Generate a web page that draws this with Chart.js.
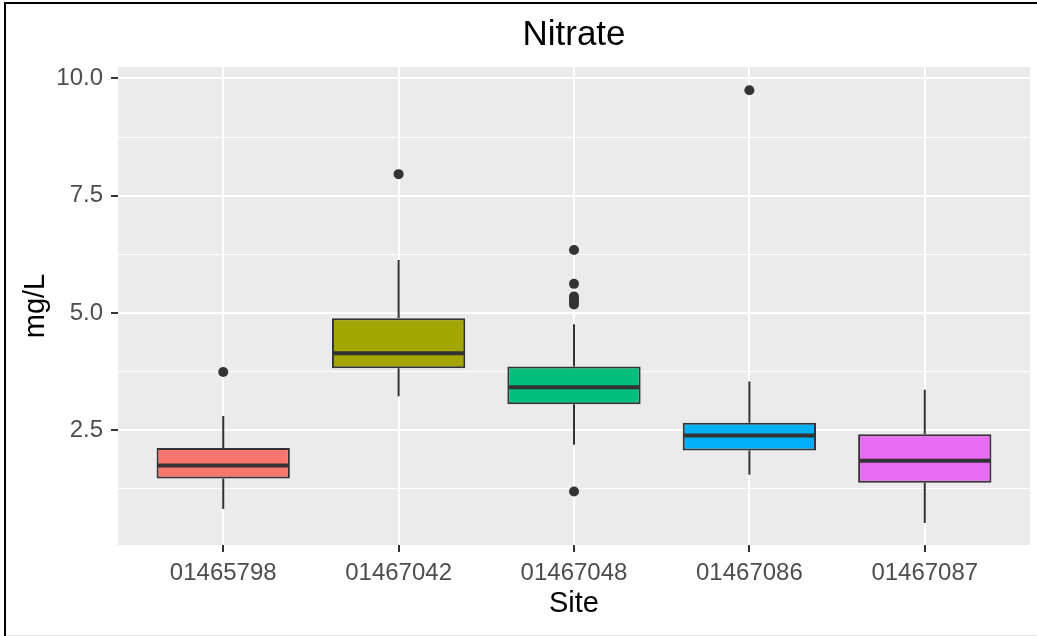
<!DOCTYPE html>
<html>
<head>
<meta charset="utf-8">
<script src="https://cdn.jsdelivr.net/npm/chart.js@4"></script>
<style>
  html, body { margin: 0; padding: 0; background: #ffffff; }
  #wrap { position: relative; width: 1037px; height: 636px; }
</style>
</head>
<body>
<div id="wrap"><canvas id="c"></canvas></div>
<script>
// ---- data ----
const sites       = ['01465798', '01467042', '01467048', '01467086', '01467087'];
const boxColors   = ['#F8766D', '#A3A500', '#00BF7D', '#00B0F6', '#E76BF3'];
const whiskerLow  = [0.82, 3.22, 2.19, 1.55, 0.52];
const q1          = [1.47, 3.82, 3.05, 2.065, 1.38];
const medians     = [1.745, 4.14, 3.416, 2.385, 1.845];
const q3          = [2.12, 4.886, 3.855, 2.66, 2.41];
const whiskerHigh = [2.80, 6.13, 4.76, 3.535, 3.36];
const outliers    = [[3.74], [7.96], [6.34, 5.62, 5.35, 5.30, 5.24, 5.18, 1.19], [9.75], []];
const yMajorTicks = [2.5, 5.0, 7.5, 10.0];
const yMinorTicks = [1.25, 3.75, 6.25, 8.75];

const FONT = "'Liberation Sans', Arial, sans-serif";
const isMajor = v => yMajorTicks.some(t => Math.abs(t - v) < 1e-6);

const boxData = sites.map((s, i) => ({ x: i + 1, y: [q1[i], q3[i]] }));
const outlierData = [];
outliers.forEach((arr, i) => arr.forEach(v => outlierData.push({ x: i + 1, y: v })));

const ggBoxPlugin = {
  id: 'ggBox',
  beforeDraw(chart) {
    const { ctx, chartArea: a } = chart;
    ctx.save();
    ctx.fillStyle = '#ffffff';
    ctx.fillRect(0, 0, chart.width, chart.height);
    ctx.fillStyle = '#EBEBEB';
    ctx.fillRect(a.left, a.top, a.right - a.left, a.bottom - a.top);
    ctx.restore();
  },
  beforeDatasetsDraw(chart) {
    const { ctx } = chart;
    const xs = chart.scales.x, ys = chart.scales.y;
    ctx.save();
    ctx.strokeStyle = '#333333';
    ctx.lineWidth = 2;
    sites.forEach((s, i) => {
      const x = xs.getPixelForValue(i + 1);
      ctx.beginPath();
      ctx.moveTo(x, ys.getPixelForValue(whiskerHigh[i]));
      ctx.lineTo(x, ys.getPixelForValue(q3[i]));
      ctx.moveTo(x, ys.getPixelForValue(q1[i]));
      ctx.lineTo(x, ys.getPixelForValue(whiskerLow[i]));
      ctx.stroke();
    });
    ctx.restore();
  },
  afterDatasetsDraw(chart) {
    const { ctx } = chart;
    const ys = chart.scales.y;
    const meta = chart.getDatasetMeta(1);
    ctx.save();
    ctx.strokeStyle = '#333333';
    ctx.lineWidth = 4;
    meta.data.forEach((bar, i) => {
      const y = ys.getPixelForValue(medians[i]);
      ctx.beginPath();
      ctx.moveTo(bar.x - bar.width / 2 + 1, y);
      ctx.lineTo(bar.x + bar.width / 2 - 1, y);
      ctx.stroke();
    });
    ctx.restore();
  },
  afterDraw(chart) {
    const { ctx } = chart;
    ctx.save();
    ctx.fillStyle = '#000000';
    ctx.fillRect(4, 2, chart.width - 4, 2);
    ctx.fillRect(4, 2, 2, chart.height - 2);
    ctx.fillStyle = '#E3E3E3';
    ctx.fillRect(6, chart.height - 1, chart.width - 6, 1);
    ctx.restore();
  }
};

new Chart(document.getElementById('c'), {
  data: {
    datasets: [
      {
        type: 'line',
        label: 'outliers',
        data: outlierData,
        showLine: false,
        pointRadius: 5,
        pointBackgroundColor: '#333333',
        pointBorderWidth: 0,
        pointBorderColor: '#333333'
      },
      {
        type: 'bar',
        label: 'Nitrate',
        data: boxData,
        backgroundColor: boxColors,
        borderColor: '#333333',
        borderWidth: 2,
        borderSkipped: false,
        barPercentage: 0.76,
        categoryPercentage: 1.0
      }
    ]
  },
  options: {
    responsive: true,
    maintainAspectRatio: false,
    animation: false,
    events: [],
    layout: { padding: { left: 0, right: 7, top: 0, bottom: 0 } },
    plugins: {
      legend: { display: false },
      tooltip: { enabled: false },
      title: {
        display: true,
        text: 'Nitrate',
        fullSize: false,
        color: '#000000',
        font: { family: FONT, size: 35, weight: 'normal' },
        padding: { top: 14, bottom: 11 }
      }
    },
    scales: {
      x: {
        type: 'linear',
        min: 0.4,
        max: 5.6,
        offset: false,
        afterBuildTicks(s) { s.ticks = sites.map((n, i) => ({ value: i + 1 })); },
        afterFit(s) { s.height = 91; },
        ticks: {
          color: '#4D4D4D',
          font: { family: FONT, size: 24 },
          padding: 7,
          maxRotation: 0,
          autoSkip: false,
          callback: v => sites[Math.round(v) - 1] || ''
        },
        grid: {
          offset: false,
          color: '#FFFFFF',
          lineWidth: 2,
          drawTicks: true,
          tickLength: 7,
          tickColor: '#333333',
          tickWidth: 2
        },
        border: { display: false },
        title: {
          display: true,
          text: 'Site',
          color: '#000000',
          font: { family: FONT, size: 29 },
          padding: { top: 0, bottom: 15 }
        }
      },
      y: {
        type: 'linear',
        min: 0.05,
        max: 10.245,
        afterBuildTicks(s) {
          s.ticks = yMinorTicks.concat(yMajorTicks).sort((a, b) => a - b).map(v => ({ value: v }));
        },
        afterFit(s) { s.width = 118; },
        ticks: {
          color: '#4D4D4D',
          font: { family: FONT, size: 24 },
          padding: 8,
          autoSkip: false,
          callback: v => isMajor(v) ? v.toFixed(1) : ''
        },
        grid: {
          color: '#FFFFFF',
          lineWidth: c => isMajor(c.tick.value) ? 2 : 1,
          drawTicks: true,
          tickLength: 7,
          tickColor: c => isMajor(c.tick.value) ? '#333333' : 'rgba(0,0,0,0)',
          tickWidth: 2
        },
        border: { display: false },
        title: {
          display: true,
          text: 'mg/L',
          color: '#000000',
          font: { family: FONT, size: 29 },
          padding: { top: 19, bottom: 0 }
        }
      }
    }
  },
  plugins: [ggBoxPlugin]
});
</script>
</body>
</html>
